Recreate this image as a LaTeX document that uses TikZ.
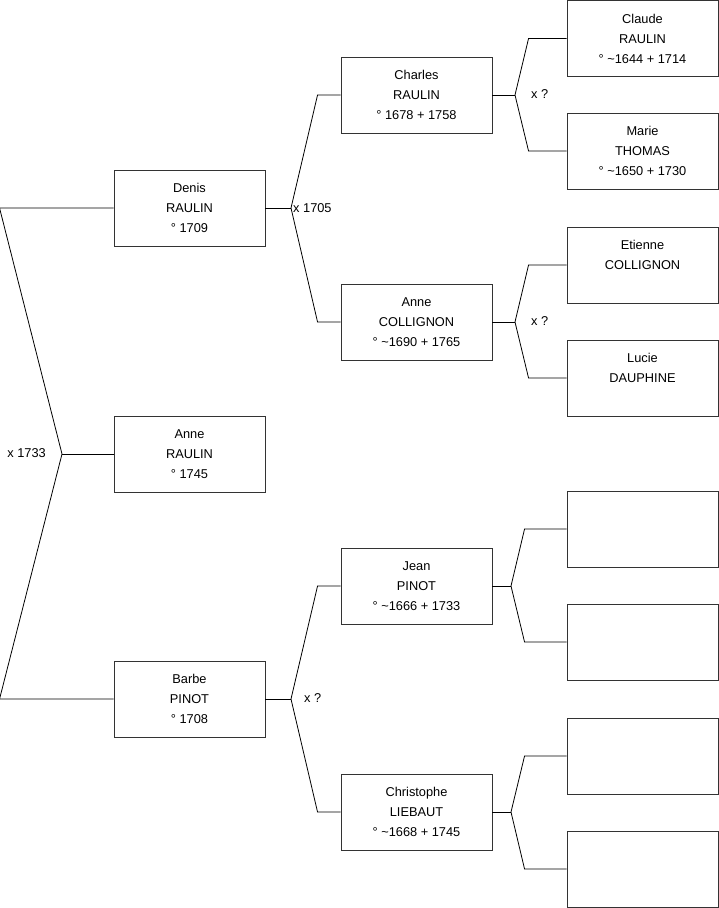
\documentclass[tikz,border=0pt]{standalone}
\usepackage{fontspec}
\setmainfont{Liberation Sans}
\usetikzlibrary{positioning}

\begin{document}
\begin{tikzpicture}[x=1pt, y=-1pt,
    person/.style={draw=black!80, line width=0.9pt, minimum width=151pt, minimum height=76pt, inner sep=0pt, align=center, font=\fontsize{12.8}{20}\selectfont},
    link/.style={draw=black, line width=0.8pt},
    union/.style={inner sep=0pt, font=\fontsize{12.8}{15}\selectfont},
]
    \useasboundingbox (0,0) rectangle (719,908);

    % generation 1
    \node[person] (anne) at (189.5,454) {Anne\\RAULIN\\° 1745};
    % generation 2
    \node[person] (denis) at (189.5,208) {Denis\\RAULIN\\° 1709};
    \node[person] (barbe) at (189.5,699) {Barbe\\PINOT\\° 1708};
    % generation 3
    \node[person] (charles) at (416.5,95) {Charles\\RAULIN\\° 1678 + 1758};
    \node[person] (annec) at (416.5,322) {Anne\\COLLIGNON\\° \textasciitilde1690 + 1765};
    \node[person] (jean) at (416.5,586) {Jean\\PINOT\\° \textasciitilde1666 + 1733};
    \node[person] (christophe) at (416.5,812) {Christophe\\LIEBAUT\\° \textasciitilde1668 + 1745};
    % generation 4
    \node[person] (claude) at (642.5,38.5) {Claude\\RAULIN\\° \textasciitilde1644 + 1714};
    \node[person] (marie) at (642.5,151) {Marie\\THOMAS\\° \textasciitilde1650 + 1730};
    \node[person] (etienne) at (642.5,265) {Etienne\\COLLIGNON\\\mbox{}};
    \node[person] (lucie) at (642.5,378) {Lucie\\DAUPHINE\\\mbox{}};
    \node[person] (jeanf) at (642.5,529) {};
    \node[person] (jeanm) at (642.5,642) {};
    \node[person] (christf) at (642.5,756) {};
    \node[person] (christm) at (642.5,869) {};

    % marriage forks
    \coordinate (vanne) at (62,454);
    \coordinate (vdenis) at (291,208);
    \coordinate (vbarbe) at (291,699);
    \coordinate (vcharles) at (515,95);
    \coordinate (vannec) at (515,322);
    \coordinate (vjean) at (511,586);
    \coordinate (vchristophe) at (511,812);

    \draw[link] (anne.west) -- (vanne);
    \draw[link] (vanne) -- ([xshift=-114pt]denis.west) -- (denis.west);
    \draw[link] (vanne) -- ([xshift=-114pt]barbe.west) -- (barbe.west);

    \draw[link] (denis.east) -- (vdenis);
    \draw[link] (vdenis) -- ([xshift=-23pt]charles.west) -- (charles.west);
    \draw[link] (vdenis) -- ([xshift=-23pt]annec.west) -- (annec.west);

    \draw[link] (barbe.east) -- (vbarbe);
    \draw[link] (vbarbe) -- ([xshift=-23pt]jean.west) -- (jean.west);
    \draw[link] (vbarbe) -- ([xshift=-23pt]christophe.west) -- (christophe.west);

    \draw[link] (charles.east) -- (vcharles);
    \draw[link] (vcharles) -- ([xshift=-38pt]claude.west) -- (claude.west);
    \draw[link] (vcharles) -- ([xshift=-38pt]marie.west) -- (marie.west);

    \draw[link] (annec.east) -- (vannec);
    \draw[link] (vannec) -- ([xshift=-38pt]etienne.west) -- (etienne.west);
    \draw[link] (vannec) -- ([xshift=-38pt]lucie.west) -- (lucie.west);

    \draw[link] (jean.east) -- (vjean);
    \draw[link] (vjean) -- ([xshift=-42pt]jeanf.west) -- (jeanf.west);
    \draw[link] (vjean) -- ([xshift=-42pt]jeanm.west) -- (jeanm.west);

    \draw[link] (christophe.east) -- (vchristophe);
    \draw[link] (vchristophe) -- ([xshift=-42pt]christf.west) -- (christf.west);
    \draw[link] (vchristophe) -- ([xshift=-42pt]christm.west) -- (christm.west);

    % marriage dates
    \node[union, left=16pt of vanne, yshift=1pt] (m1733) {x 1733};
    \node[union, right=2pt of vdenis] (m1705) {x 1705};
    \node[union, right=13pt of vbarbe, yshift=1pt] (mbarbe) {x ?};
    \node[union, right=16pt of vcharles, yshift=1pt] (mcharles) {x ?};
    \node[union, right=16pt of vannec, yshift=1pt] (mannec) {x ?};
\end{tikzpicture}
\end{document}
